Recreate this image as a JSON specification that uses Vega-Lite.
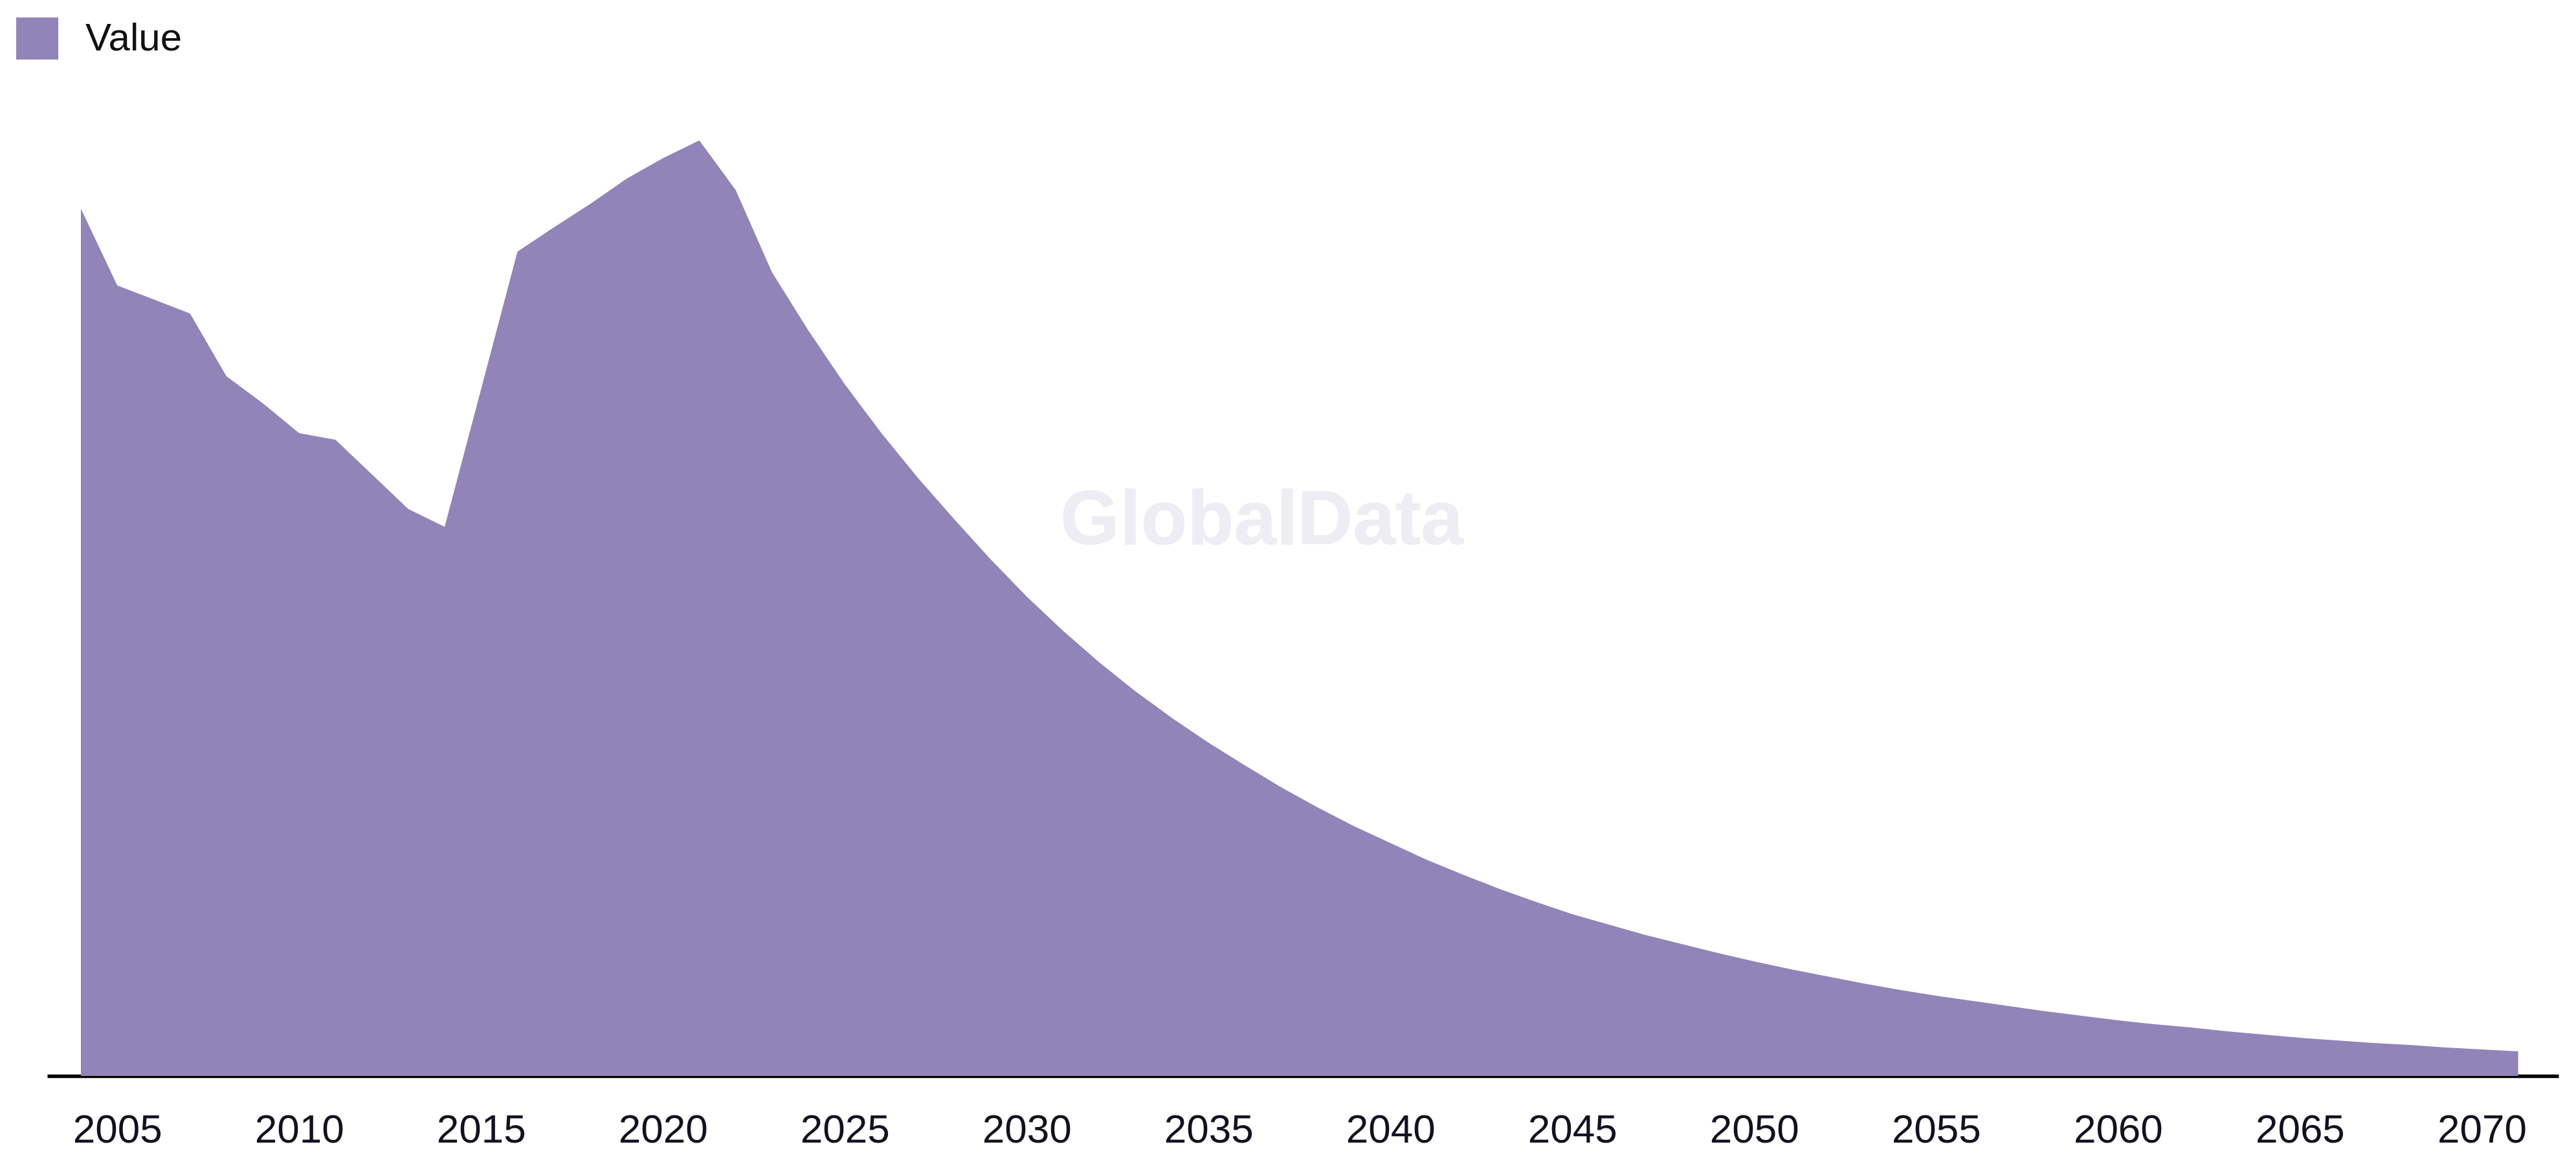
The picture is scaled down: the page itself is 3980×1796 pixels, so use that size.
{
  "$schema": "https://vega.github.io/schema/vega-lite/v6.json",
  "autosize": "none",
  "width": 3880,
  "height": 1446,
  "padding": {"left": 73, "top": 217, "right": 27, "bottom": 133},
  "background": "white",
  "config": {
    "view": {"stroke": null},
    "font": "Liberation Sans"
  },
  "data": {
    "values": [
      {"year": 2004, "value": 92.7},
      {"year": 2005, "value": 84.5},
      {"year": 2006, "value": 83.0},
      {"year": 2007, "value": 81.5},
      {"year": 2008, "value": 74.8},
      {"year": 2009, "value": 71.9},
      {"year": 2010, "value": 68.7},
      {"year": 2011, "value": 68.0},
      {"year": 2012, "value": 64.3},
      {"year": 2013, "value": 60.6},
      {"year": 2014, "value": 58.7},
      {"year": 2015, "value": 73.4},
      {"year": 2016, "value": 88.1},
      {"year": 2017, "value": 90.7},
      {"year": 2018, "value": 93.2},
      {"year": 2019, "value": 95.9},
      {"year": 2020, "value": 98.1},
      {"year": 2021, "value": 100.0},
      {"year": 2022, "value": 94.7},
      {"year": 2023, "value": 85.89},
      {"year": 2024, "value": 79.67},
      {"year": 2025, "value": 73.93},
      {"year": 2026, "value": 68.74},
      {"year": 2027, "value": 63.97},
      {"year": 2028, "value": 59.54},
      {"year": 2029, "value": 55.26},
      {"year": 2030, "value": 51.24},
      {"year": 2031, "value": 47.58},
      {"year": 2032, "value": 44.19},
      {"year": 2033, "value": 41.08},
      {"year": 2034, "value": 38.24},
      {"year": 2035, "value": 35.62},
      {"year": 2036, "value": 33.2},
      {"year": 2037, "value": 30.84},
      {"year": 2038, "value": 28.7},
      {"year": 2039, "value": 26.69},
      {"year": 2040, "value": 24.9},
      {"year": 2041, "value": 23.1},
      {"year": 2042, "value": 21.51},
      {"year": 2043, "value": 19.99},
      {"year": 2044, "value": 18.6},
      {"year": 2045, "value": 17.29},
      {"year": 2046, "value": 16.18},
      {"year": 2047, "value": 15.08},
      {"year": 2048, "value": 14.11},
      {"year": 2049, "value": 13.14},
      {"year": 2050, "value": 12.24},
      {"year": 2051, "value": 11.41},
      {"year": 2052, "value": 10.65},
      {"year": 2053, "value": 9.89},
      {"year": 2054, "value": 9.2},
      {"year": 2055, "value": 8.58},
      {"year": 2056, "value": 8.02},
      {"year": 2057, "value": 7.47},
      {"year": 2058, "value": 6.92},
      {"year": 2059, "value": 6.43},
      {"year": 2060, "value": 5.95},
      {"year": 2061, "value": 5.53},
      {"year": 2062, "value": 5.19},
      {"year": 2063, "value": 4.77},
      {"year": 2064, "value": 4.43},
      {"year": 2065, "value": 4.08},
      {"year": 2066, "value": 3.8},
      {"year": 2067, "value": 3.53},
      {"year": 2068, "value": 3.32},
      {"year": 2069, "value": 3.04},
      {"year": 2070, "value": 2.84},
      {"year": 2071, "value": 2.63}
    ]
  },
  "layer": [
    {
      "mark": {"type": "area", "interpolate": "linear", "opacity": 1},
      "encoding": {
        "x": {
          "field": "year",
          "type": "quantitative",
          "scale": {"domain": [2003.075, 2072.11], "nice": false, "zero": false},
          "axis": {
            "title": null,
            "values": [2005, 2010, 2015, 2020, 2025, 2030, 2035, 2040, 2045, 2050, 2055, 2060, 2065, 2070],
            "format": "d",
            "grid": false,
            "ticks": false,
            "domainColor": "#000000",
            "domainWidth": 5.5,
            "labelFont": "Liberation Sans",
            "labelFontSize": 62,
            "labelColor": "#111122",
            "labelPadding": 53
          }
        },
        "y": {
          "field": "value",
          "type": "quantitative",
          "scale": {"domain": [0, 100], "nice": false},
          "axis": null
        },
        "color": {
          "datum": "Value",
          "type": "nominal",
          "scale": {"range": ["#9084b8"]},
          "legend": {
            "title": null,
            "orient": "none",
            "legendX": -48,
            "legendY": -190,
            "padding": 0,
            "symbolType": "square",
            "symbolSize": 4225,
            "symbolStrokeWidth": 0,
            "symbolOpacity": 1,
            "labelFont": "Liberation Sans",
            "labelFontSize": 60,
            "labelColor": "#111111",
            "labelOffset": 42
          }
        }
      }
    },
    {
      "mark": {
        "type": "text",
        "text": "GlobalData",
        "font": "Liberation Sans",
        "fontWeight": "bold",
        "fontSize": 118,
        "color": "#eeedf4",
        "align": "center",
        "baseline": "middle"
      },
      "encoding": {
        "x": {"datum": 2036.46, "type": "quantitative"},
        "y": {"datum": 59.3, "type": "quantitative"}
      }
    }
  ]
}
